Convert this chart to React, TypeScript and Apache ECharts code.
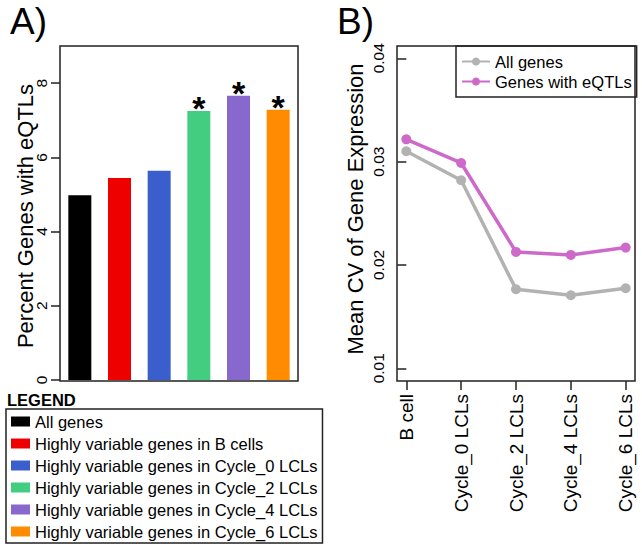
import React, { useEffect, useRef } from "react";
import * as echarts from "echarts";

const FONT = "'Liberation Sans', Arial, Helvetica, sans-serif";

// Panel A data
const barCategories = [
  "All genes",
  "Highly variable genes in B cells",
  "Highly variable genes in Cycle_0 LCLs",
  "Highly variable genes in Cycle_2 LCLs",
  "Highly variable genes in Cycle_4 LCLs",
  "Highly variable genes in Cycle_6 LCLs",
];
const barValues = [4.98, 5.44, 5.64, 7.25, 7.66, 7.28];
const barSignificant = [false, false, false, true, true, true];
const barColors = ["#000000", "#EE0000", "#3A5FCD", "#43CD80", "#8968CD", "#FF8C00"];
const yTicksA = [0, 2, 4, 6, 8];

// Panel B data
const stages = ["B cell", "Cycle_0 LCLs", "Cycle_2 LCLs", "Cycle_4 LCLs", "Cycle_6 LCLs"];
const allGenesCV = [0.0310, 0.0282, 0.01765, 0.01707, 0.01775];
const eqtlGenesCV = [0.03216, 0.02987, 0.02126, 0.02097, 0.02168];
const lineNames = ["All genes", "Genes with eQTLs"];
const lineColors = ["#B2B2B2", "#CD69C9"];
const yTicksB = [0.01, 0.02, 0.03, 0.04];
const stageIdx = stages.map((_, i) => i);

export default function App() {
  const ref = useRef<HTMLDivElement>(null);
  useEffect(() => {
    if (!ref.current) return;
    const chart = echarts.init(ref.current, null, { renderer: "svg" });
    const frame = { show: true, borderColor: "#222", borderWidth: 1.5, backgroundColor: "transparent" };
    const tick = { show: true, length: 9, inside: false, lineStyle: { color: "#222", width: 1.5 } };

    const barSeries = barCategories.map((name, i) => ({
      type: "bar",
      name,
      xAxisIndex: 0,
      yAxisIndex: 0,
      stack: "a",
      barWidth: 23,
      itemStyle: { color: barColors[i] },
      emphasis: { disabled: true },
      label: {
        show: barSignificant[i],
        position: "top",
        distance: -14,
        formatter: "*",
        fontSize: 34,
        fontWeight: "bold",
        color: "#000",
        fontFamily: FONT,
      },
      data: barCategories.map((_, j) => (j === i ? barValues[i] : "-")),
    }));

    const lineSeries = [allGenesCV, eqtlGenesCV].map((vals, k) => ({
      type: "line",
      name: "B:" + lineNames[k],
      xAxisIndex: 1,
      yAxisIndex: 1,
      symbol: "circle",
      symbolSize: 10,
      lineStyle: { color: lineColors[k], width: 3.5 },
      itemStyle: { color: lineColors[k] },
      emphasis: { disabled: true },
      data: vals.map((v, i) => [stageIdx[i], v]),
    }));

    chart.setOption({
      animation: false,
      textStyle: { fontFamily: FONT },
      grid: [
        { left: 60, top: 46, width: 238, height: 335, ...frame },
        { left: 397, top: 46, width: 238, height: 335, ...frame },
      ],
      xAxis: [
        {
          type: "category",
          gridIndex: 0,
          data: barCategories,
          axisLine: { show: false },
          axisTick: { show: false },
          axisLabel: { show: false },
        },
        {
          type: "value",
          gridIndex: 1,
          min: -0.17,
          max: 4.17,
          axisLine: { show: false },
          splitLine: { show: false },
          axisTick: { ...tick, customValues: stageIdx },
          axisLabel: {
            customValues: stageIdx,
            rotate: 90,
            margin: 13,
            fontSize: 19,
            color: "#000",
            fontFamily: FONT,
            formatter: (v: number) => stages[Math.round(v)] ?? "",
          },
        },
      ],
      yAxis: [
        {
          type: "value",
          gridIndex: 0,
          min: -0.027,
          max: 9.0,
          axisLine: { show: false },
          splitLine: { show: false },
          axisTick: { ...tick, customValues: yTicksA },
          axisLabel: {
            customValues: yTicksA,
            rotate: 90,
            margin: 11,
            fontSize: 15.5,
            color: "#000",
            fontFamily: FONT,
            formatter: (v: number) => String(v),
          },
        },
        {
          type: "value",
          gridIndex: 1,
          min: 0.00877,
          max: 0.04119,
          axisLine: { show: false },
          splitLine: { show: false },
          axisTick: { ...tick, customValues: yTicksB },
          axisLabel: {
            customValues: yTicksB,
            rotate: 90,
            margin: 11,
            fontSize: 15.5,
            color: "#000",
            fontFamily: FONT,
            formatter: (v: number) => v.toFixed(2),
          },
        },
      ],
      legend: [
        {
          data: barCategories.map((name) => ({ name, icon: "rect" })),
          orient: "vertical",
          left: 6,
          top: 409,
          padding: [4, 5, 3, 5],
          itemWidth: 19,
          itemHeight: 10,
          itemGap: 5,
          borderColor: "#222",
          borderWidth: 1.5,
          selectedMode: false,
          textStyle: { fontSize: 16.5, lineHeight: 17, color: "#000", fontFamily: FONT },
        },
        {
          data: lineNames.map((n) => ({ name: "B:" + n })),
          orient: "vertical",
          left: 456,
          top: 46,
          padding: [7, 5, 7, 5],
          itemWidth: 28,
          itemHeight: 10,
          itemGap: 3,
          borderColor: "#222",
          borderWidth: 1.5,
          selectedMode: false,
          formatter: (n: string) => n.replace("B:", ""),
          textStyle: { fontSize: 16.5, lineHeight: 17, color: "#000", fontFamily: FONT },
        },
      ],
      graphic: [
        {
          type: "text",
          left: 10,
          top: 3,
          style: { text: "A)", fontSize: 37, fill: "#000", fontFamily: FONT },
        },
        {
          type: "text",
          left: 337,
          top: 3,
          style: { text: "B)", fontSize: 37, fill: "#000", fontFamily: FONT },
        },
        {
          type: "text",
          left: 7,
          top: 391,
          style: { text: "LEGEND", fontSize: 16.5, fontWeight: "bold", fill: "#000", fontFamily: FONT },
        },
        {
          type: "text",
          x: 25,
          y: 216,
          rotation: Math.PI / 2,
          style: {
            text: "Percent Genes with eQTLs",
            fontSize: 22,
            fill: "#000",
            fontFamily: FONT,
            align: "center",
            verticalAlign: "middle",
          },
        },
        {
          type: "text",
          x: 355,
          y: 209,
          rotation: Math.PI / 2,
          style: {
            text: "Mean CV of Gene Expression",
            fontSize: 22,
            fill: "#000",
            fontFamily: FONT,
            align: "center",
            verticalAlign: "middle",
          },
        },
      ],
      series: [...barSeries, ...lineSeries],
    });
    return () => chart.dispose();
  }, []);
  return (
    <div
      ref={ref}
      style={{ position: "absolute", left: 0, top: 0, width: 642, height: 551, background: "#fff" }}
    />
  );
}
